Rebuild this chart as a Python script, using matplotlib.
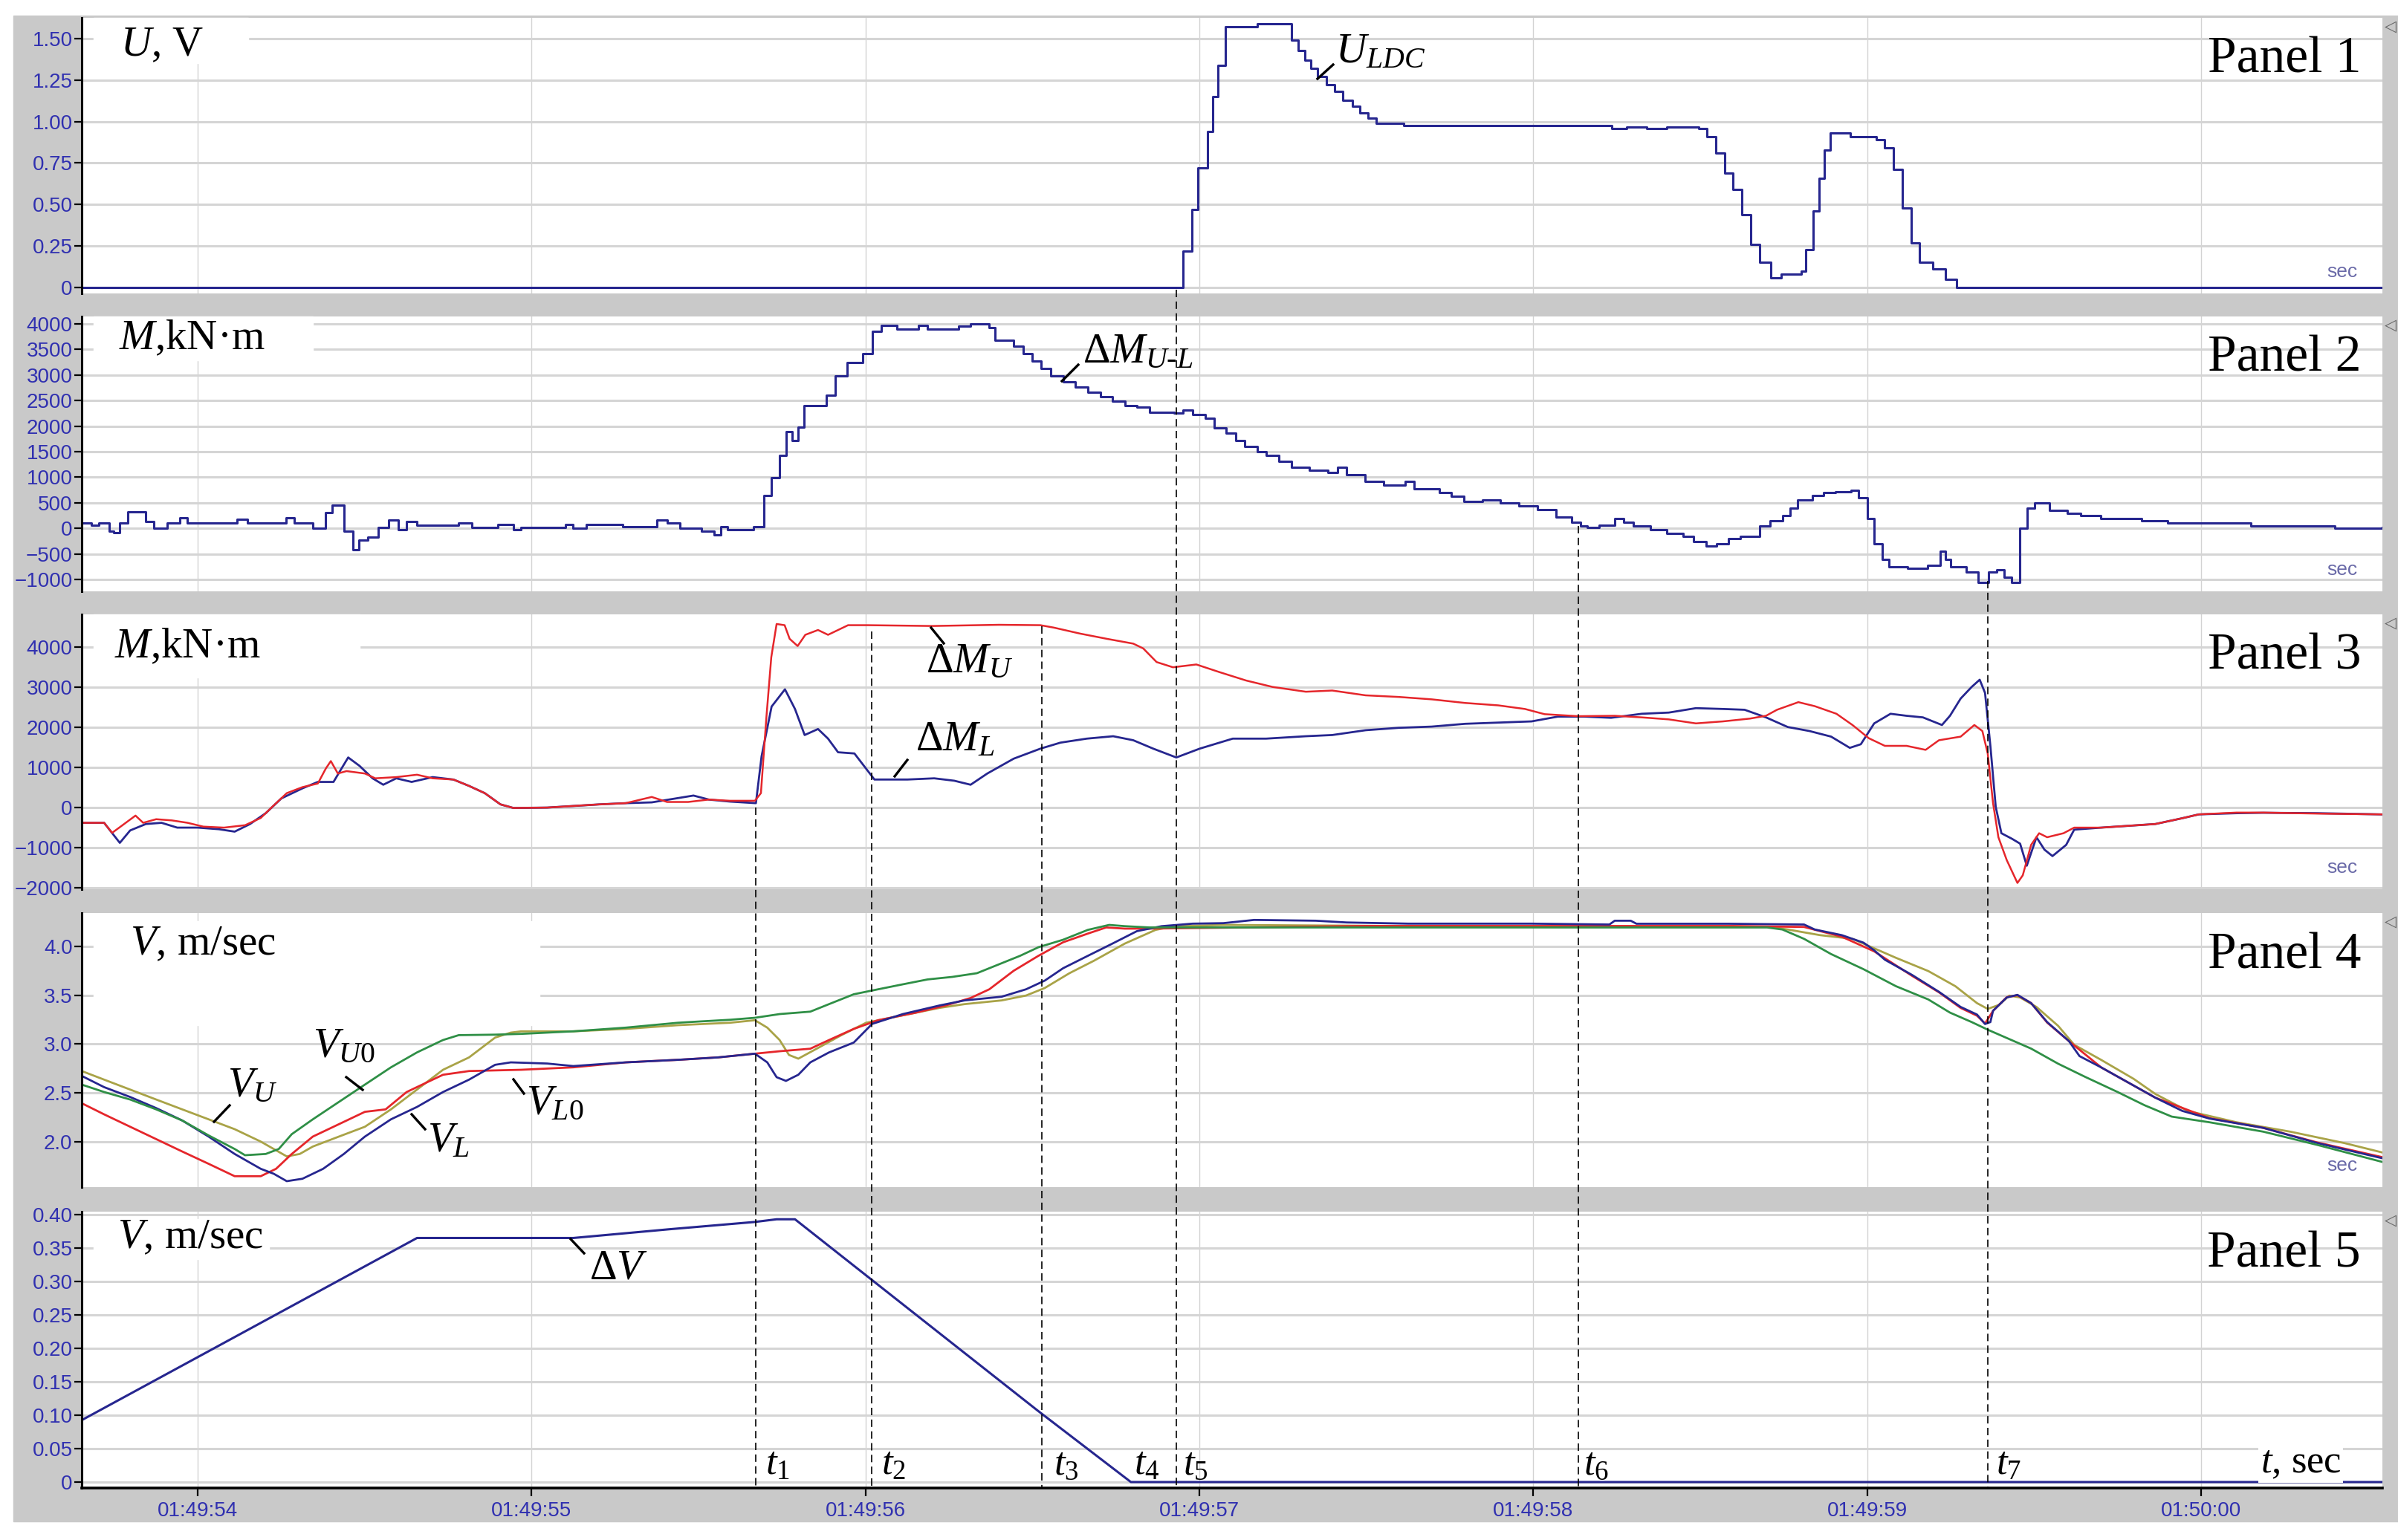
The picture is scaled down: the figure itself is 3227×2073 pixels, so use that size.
import numpy as np
import matplotlib.pyplot as plt
from matplotlib.patches import Rectangle
from matplotlib.lines import Line2D
from matplotlib.transforms import blended_transform_factory

W, H = 3227, 2073
plt.rcParams['font.family'] = ['Liberation Sans', 'DejaVu Sans']
plt.rcParams['mathtext.fontset'] = 'custom'
plt.rcParams['mathtext.rm'] = 'Liberation Serif'
plt.rcParams['mathtext.it'] = 'Liberation Serif:italic'

# ---------------- data (time in seconds after 01:49:00) ----------------
T_START, T_END = 53.653, 60.543
sec_ticks = [54, 55, 56, 57, 58, 59, 60]
sec_labels = ['01:49:54', '01:49:55', '01:49:56', '01:49:57', '01:49:58', '01:49:59', '01:50:00']

# panel 1 : U_LDC, V
t_uldc = [53.653, 56.931, 56.952, 56.978, 56.996, 57.025, 57.040, 57.056, 57.077, 57.173, 57.245,
          57.276, 57.295, 57.315, 57.335, 57.354, 57.380, 57.406, 57.430, 57.458, 57.480, 57.505,
          57.530, 57.613, 58.197, 58.236, 58.280, 58.340, 58.400, 58.495, 58.521, 58.547, 58.573,
          58.599, 58.625, 58.651, 58.677, 58.711, 58.742, 58.802, 58.815, 58.838, 58.855, 58.872,
          58.890, 58.949, 59.027, 59.053, 59.079, 59.105, 59.131, 59.157, 59.196, 59.235, 59.268, 60.543]
u_ldc = [0.0, 0.0, 0.22, 0.47, 0.72, 0.94, 1.15, 1.34, 1.57, 1.59, 1.59,
         1.49, 1.43, 1.37, 1.32, 1.27, 1.22, 1.18, 1.13, 1.09, 1.05, 1.02,
         0.99, 0.975, 0.975, 0.96, 0.965, 0.96, 0.965, 0.96, 0.91, 0.81, 0.69,
         0.59, 0.44, 0.26, 0.15, 0.06, 0.08, 0.10, 0.23, 0.46, 0.66, 0.83,
         0.93, 0.91, 0.89, 0.84, 0.71, 0.48, 0.27, 0.15, 0.11, 0.05, 0.0, 0.0]

# panel 2 : dM_U-L, kN*m
t_dmul = [53.653, 53.681, 53.705, 53.736, 53.748, 53.767, 53.790, 53.845, 53.869, 53.908, 53.947,
          53.970, 54.118, 54.150, 54.264, 54.290, 54.345, 54.384, 54.403, 54.438, 54.465, 54.482,
          54.509, 54.540, 54.571, 54.602, 54.626, 54.657, 54.782, 54.821, 54.899, 54.946, 54.969,
          55.102, 55.125, 55.164, 55.274, 55.375, 55.406, 55.445, 55.508, 55.547, 55.566, 55.586,
          55.664, 55.691, 55.697, 55.719, 55.743, 55.762, 55.780, 55.799, 55.817, 55.882, 55.909,
          55.946, 55.992, 56.020, 56.048, 56.094, 56.158, 56.186, 56.278, 56.315, 56.371, 56.389,
          56.444, 56.472, 56.500, 56.527, 56.555, 56.592, 56.629, 56.666, 56.703, 56.740, 56.777,
          56.813, 56.850, 56.924, 56.952, 56.980, 57.017, 57.044, 57.081, 57.109, 57.136, 57.173,
          57.201, 57.238, 57.275, 57.330, 57.386, 57.413, 57.441, 57.496, 57.552, 57.616, 57.644,
          57.718, 57.755, 57.792, 57.847, 57.902, 57.958, 58.013, 58.068, 58.115, 58.142, 58.161,
          58.198, 58.244, 58.271, 58.300, 58.350, 58.400, 58.448, 58.480, 58.517, 58.550, 58.585,
          58.620, 58.677, 58.710, 58.746, 58.770, 58.792, 58.837, 58.870, 58.906, 58.952, 58.975,
          59.000, 59.020, 59.045, 59.066, 59.120, 59.181, 59.218, 59.235, 59.250, 59.296, 59.332,
          59.364, 59.387, 59.410, 59.433, 59.456, 59.479, 59.502, 59.547, 59.600, 59.639, 59.700,
          59.822, 59.900, 60.051, 60.150, 60.280, 60.400, 60.543]
dm_ul = [104, 65, 100, -55, -80, 100, 330, 140, 0, 110, 210,
         110, 180, 110, 210, 100, 0, 310, 460, -55, -420, -230,
         -170, 20, 160, -30, 140, 65, 100, 20, 80, -30, 20,
         80, 0, 80, 40, 160, 110, 0, -55, -120, 40, -30,
         40, 40, 650, 990, 1430, 1890, 1720, 1985, 2400, 2610, 2980,
         3240, 3410, 3850, 3970, 3900, 3970, 3900, 3950, 4000, 3920, 3680,
         3560, 3410, 3270, 3120, 2980, 2860, 2760, 2660, 2570, 2490, 2400,
         2370, 2270, 2250, 2310, 2230, 2150, 1960, 1860, 1720, 1600, 1500,
         1430, 1310, 1200, 1140, 1090, 1190, 1050, 920, 850, 920, 775,
         700, 630, 530, 560, 495, 435, 365, 220, 120, 50, 25,
         70, 195, 120, 50, -20, -100, -150, -250, -350, -300, -200,
         -150, 50, 150, 250, 400, 550, 650, 700, 720, 750, 600,
         200, -300, -600, -750, -780, -720, -450, -600, -750, -850, -1050,
         -850, -800, -950, -1050, 0, 400, 500, 350, 300, 250, 200,
         150, 100, 100, 50, 50, 0, 20]

# panel 3 : dM_U (red) and dM_L (blue), kN*m
t_dmu = [53.653, 53.720, 53.744, 53.775, 53.814, 53.837, 53.876, 53.923, 53.970, 54.017, 54.079,
         54.142, 54.189, 54.220, 54.267, 54.314, 54.360, 54.384, 54.399, 54.420, 54.446, 54.501,
         54.532, 54.595, 54.657, 54.704, 54.766, 54.813, 54.860, 54.907, 54.946, 55.047, 55.125,
         55.203, 55.282, 55.360, 55.406, 55.469, 55.531, 55.594, 55.669, 55.687, 55.703, 55.718,
         55.734, 55.758, 55.773, 55.797, 55.820, 55.858, 55.888, 55.918, 55.948, 56.007, 56.200,
         56.400, 56.524, 56.564, 56.643, 56.723, 56.802, 56.832, 56.872, 56.921, 56.991, 57.060,
         57.140, 57.219, 57.319, 57.398, 57.498, 57.597, 57.696, 57.796, 57.895, 57.975, 58.034,
         58.134, 58.244, 58.325, 58.406, 58.487, 58.568, 58.649, 58.697, 58.730, 58.794, 58.843,
         58.908, 58.956, 59.005, 59.053, 59.118, 59.175, 59.215, 59.280, 59.321, 59.345, 59.361,
         59.377, 59.393, 59.418, 59.450, 59.466, 59.491, 59.515, 59.539, 59.588, 59.620, 59.701,
         59.782, 59.863, 59.944, 59.993, 60.106, 60.187, 60.349, 60.543]
dm_u = [-380, -380, -630, -440, -200, -380, -290, -320, -380, -475, -500,
        -440, -260, -10, 360, 510, 600, 975, 1160, 850, 910, 850,
        730, 760, 820, 730, 700, 540, 360, 80, -10, 0, 40,
        80, 110, 265, 140, 140, 200, 170, 170, 360, 2210, 3750,
        4580, 4550, 4210, 4030, 4310, 4430, 4310, 4430, 4550, 4550, 4530,
        4560, 4550, 4490, 4340, 4210, 4090, 3970, 3630, 3500, 3570, 3380,
        3170, 3010, 2890, 2920, 2800, 2760, 2700, 2610, 2550, 2460, 2330,
        2280, 2290, 2250, 2200, 2100, 2150, 2220, 2290, 2440, 2630, 2530,
        2340, 2060, 1730, 1540, 1540, 1440, 1680, 1770, 2060, 1910, 1350,
        110, -740, -1310, -1880, -1690, -930, -640, -740, -640, -500, -500,
        -455, -410, -265, -170, -125, -125, -150, -170]

t_dml = [53.653, 53.720, 53.767, 53.798, 53.845, 53.892, 53.939, 54.001, 54.064, 54.111, 54.157,
         54.204, 54.251, 54.314, 54.360, 54.407, 54.431, 54.451, 54.485, 54.524, 54.556, 54.595,
         54.641, 54.704, 54.766, 54.813, 54.860, 54.907, 54.946, 55.047, 55.125, 55.203, 55.282,
         55.360, 55.485, 55.531, 55.594, 55.672, 55.689, 55.719, 55.759, 55.789, 55.818, 55.858,
         55.888, 55.918, 55.967, 56.027, 56.067, 56.126, 56.206, 56.266, 56.315, 56.365, 56.444,
         56.524, 56.584, 56.663, 56.742, 56.802, 56.862, 56.931, 57.001, 57.100, 57.200, 57.319,
         57.398, 57.498, 57.597, 57.696, 57.796, 57.895, 57.995, 58.074, 58.153, 58.233, 58.325,
         58.406, 58.487, 58.568, 58.633, 58.697, 58.762, 58.827, 58.892, 58.948, 58.981, 59.021,
         59.070, 59.118, 59.167, 59.224, 59.248, 59.280, 59.313, 59.337, 59.353, 59.369, 59.385,
         59.402, 59.434, 59.458, 59.478, 59.507, 59.531, 59.555, 59.596, 59.620, 59.701, 59.782,
         59.863, 59.944, 59.993, 60.106, 60.187, 60.349, 60.543]
dm_l = [-380, -380, -880, -570, -410, -380, -500, -500, -540, -600, -410,
        -140, 230, 480, 640, 640, 975, 1250, 1040, 730, 570, 730,
        640, 760, 700, 540, 360, 80, -10, 0, 40, 80, 110,
        130, 300, 200, 150, 110, 1280, 2520, 2950, 2460, 1810, 1960,
        1720, 1380, 1350, 700, 700, 700, 730, 670, 570, 850, 1220,
        1470, 1620, 1720, 1780, 1680, 1470, 1250, 1470, 1720, 1720, 1780,
        1810, 1930, 1990, 2020, 2090, 2120, 2150, 2270, 2270, 2240, 2340,
        2370, 2480, 2460, 2440, 2250, 2010, 1910, 1770, 1490, 1580, 2100,
        2340, 2290, 2250, 2060, 2290, 2720, 3010, 3190, 2860, 1540, 20,
        -640, -780, -900, -1450, -740, -1050, -1210, -930, -550, -500, -455,
        -410, -265, -170, -140, -130, -140, -170]

# panel 4 : speeds, m/sec
t_vu = [53.653, 53.720, 53.798, 53.876, 53.954, 54.033, 54.111, 54.189, 54.228, 54.267, 54.306,
        54.345, 54.423, 54.501, 54.579, 54.657, 54.735, 54.813, 54.891, 54.938, 54.969, 55.125,
        55.282, 55.438, 55.594, 55.669, 55.706, 55.743, 55.771, 55.799, 55.854, 55.928, 56.002,
        56.075, 56.149, 56.223, 56.297, 56.408, 56.481, 56.537, 56.611, 56.684, 56.777, 56.869,
        56.924, 57.072, 57.600, 58.082, 58.713, 58.762, 58.859, 58.956, 59.021, 59.086, 59.183,
        59.264, 59.329, 59.361, 59.394, 59.426, 59.458, 59.507, 59.572, 59.620, 59.701, 59.798,
        59.863, 59.960, 60.106, 60.268, 60.430, 60.543]
v_u = [2.723, 2.635, 2.533, 2.431, 2.330, 2.228, 2.127, 2.000, 1.924, 1.848, 1.873,
       1.949, 2.051, 2.152, 2.330, 2.533, 2.736, 2.863, 3.066, 3.117, 3.130, 3.130,
       3.155, 3.193, 3.218, 3.244, 3.168, 3.041, 2.888, 2.850, 2.952, 3.091, 3.218,
       3.269, 3.320, 3.371, 3.409, 3.447, 3.497, 3.574, 3.726, 3.853, 4.030, 4.170,
       4.208, 4.221, 4.210, 4.200, 4.200, 4.174, 4.116, 4.078, 3.981, 3.884, 3.748,
       3.593, 3.419, 3.360, 3.400, 3.496, 3.477, 3.380, 3.186, 2.992, 2.837, 2.643,
       2.488, 2.314, 2.198, 2.101, 1.984, 1.888]

t_vu0 = [53.653, 53.720, 53.798, 53.876, 53.954, 54.033, 54.111, 54.142, 54.204, 54.243, 54.282,
         54.345, 54.423, 54.501, 54.579, 54.657, 54.735, 54.782, 54.891, 54.969, 55.125, 55.282,
         55.438, 55.503, 55.596, 55.669, 55.743, 55.835, 55.891, 55.965, 56.038, 56.112, 56.186,
         56.260, 56.334, 56.389, 56.463, 56.518, 56.592, 56.666, 56.730, 56.777, 56.850, 57.500,
         58.700, 58.746, 58.811, 58.892, 58.989, 59.086, 59.183, 59.248, 59.313, 59.361, 59.426,
         59.491, 59.572, 59.653, 59.750, 59.831, 59.912, 60.025, 60.187, 60.349, 60.543]
v_u0 = [2.584, 2.508, 2.431, 2.330, 2.216, 2.063, 1.924, 1.860, 1.873, 1.924, 2.076,
        2.228, 2.406, 2.584, 2.761, 2.914, 3.041, 3.091, 3.096, 3.104, 3.130, 3.168,
        3.218, 3.231, 3.249, 3.269, 3.307, 3.332, 3.409, 3.510, 3.561, 3.612, 3.662,
        3.688, 3.726, 3.802, 3.904, 3.992, 4.069, 4.170, 4.221, 4.208, 4.195, 4.195,
        4.195, 4.174, 4.078, 3.922, 3.767, 3.593, 3.457, 3.322, 3.225, 3.147, 3.050,
        2.953, 2.798, 2.663, 2.508, 2.372, 2.256, 2.198, 2.101, 1.965, 1.791]

t_vl = [53.653, 53.720, 53.798, 53.876, 53.954, 54.033, 54.111, 54.189, 54.228, 54.267, 54.314,
        54.376, 54.438, 54.501, 54.579, 54.657, 54.735, 54.813, 54.891, 54.938, 55.047, 55.125,
        55.282, 55.438, 55.559, 55.669, 55.706, 55.734, 55.762, 55.799, 55.835, 55.891, 55.965,
        56.020, 56.112, 56.223, 56.297, 56.408, 56.481, 56.537, 56.592, 56.666, 56.740, 56.813,
        56.887, 56.980, 57.072, 57.164, 57.349, 57.441, 57.626, 57.995, 58.228, 58.244, 58.292,
        58.309, 58.584, 58.811, 58.843, 58.924, 58.989, 59.021, 59.053, 59.134, 59.215, 59.280,
        59.329, 59.353, 59.369, 59.377, 59.418, 59.450, 59.491, 59.539, 59.604, 59.636, 59.701,
        59.782, 59.863, 59.944, 60.025, 60.187, 60.349, 60.543]
v_l = [2.673, 2.558, 2.457, 2.343, 2.216, 2.051, 1.873, 1.721, 1.670, 1.594, 1.619,
       1.721, 1.873, 2.051, 2.228, 2.355, 2.508, 2.635, 2.787, 2.812, 2.800, 2.774,
       2.812, 2.838, 2.863, 2.901, 2.812, 2.660, 2.622, 2.685, 2.812, 2.914, 3.015,
       3.206, 3.307, 3.396, 3.447, 3.485, 3.561, 3.650, 3.777, 3.904, 4.030, 4.157,
       4.208, 4.234, 4.239, 4.272, 4.264, 4.246, 4.234, 4.234, 4.225, 4.264, 4.264,
       4.233, 4.233, 4.225, 4.174, 4.116, 4.039, 3.961, 3.864, 3.709, 3.535, 3.380,
       3.302, 3.205, 3.225, 3.341, 3.477, 3.504, 3.419, 3.225, 3.031, 2.876, 2.760,
       2.605, 2.450, 2.314, 2.236, 2.140, 1.984, 1.829]

t_vl0 = [53.653, 53.720, 53.798, 53.876, 53.954, 54.033, 54.111, 54.189, 54.235, 54.282, 54.345,
         54.423, 54.501, 54.563, 54.626, 54.688, 54.735, 54.813, 54.969, 55.125, 55.282, 55.438,
         55.559, 55.669, 55.743, 55.835, 55.891, 55.965, 56.038, 56.149, 56.241, 56.315, 56.371,
         56.444, 56.518, 56.592, 56.666, 56.721, 56.777, 56.850, 57.500, 58.600, 58.811, 58.924,
         59.021, 59.134, 59.215, 59.280, 59.329, 59.353, 59.377, 59.418, 59.450, 59.491, 59.539,
         59.604, 59.701, 59.863, 60.025, 60.187, 60.349, 60.543]
v_l0 = [2.393, 2.279, 2.152, 2.025, 1.898, 1.772, 1.645, 1.645, 1.721, 1.873, 2.051,
        2.178, 2.305, 2.330, 2.508, 2.609, 2.685, 2.723, 2.736, 2.761, 2.812, 2.838,
        2.863, 2.901, 2.926, 2.952, 3.041, 3.155, 3.244, 3.320, 3.396, 3.472, 3.561,
        3.751, 3.904, 4.043, 4.132, 4.195, 4.183, 4.183, 4.210, 4.210, 4.200, 4.100,
        3.950, 3.700, 3.530, 3.370, 3.290, 3.210, 3.340, 3.480, 3.500, 3.420, 3.220,
        3.030, 2.760, 2.450, 2.240, 2.140, 1.990, 1.840]

# panel 5 : dV, m/sec
t_dv = [53.653, 54.001, 54.657, 55.125, 55.411, 55.669, 55.734, 55.789, 56.020, 56.518, 56.795, 60.543]
dv = [0.0926, 0.187, 0.365, 0.365, 0.378, 0.389, 0.393, 0.393, 0.302, 0.106, 0.0, 0.0]

# event instants t1..t7 and where their dashed markers start (pixel row)
event_t = [55.671, 56.019, 56.528, 56.931, 58.135, 59.362]
event_top = [1087, 850, 843, 390, 708, 782]

# ---------------- figure ----------------
NAVY = '#26268f'
RED = '#e5262b'
GREEN = '#2f8f46'
OLIVE = '#a9a347'
TICKC = '#3030b0'
GRAYBG = '#c9c9c9'


def fx(x):
    return x / W


def fy(y):
    return 1 - y / H


fig = plt.figure(figsize=(W / 100, H / 100), dpi=100)
fig.add_artist(Rectangle((fx(18), fy(2048)), (W - 18) / W, (2048 - 21) / H,
                         transform=fig.transFigure, color=GRAYBG, zorder=-10))

panels = [(24, 395), (426, 796), (827, 1197), (1229, 1598), (1631, 2003)]
axes = []
for top, bot in panels:
    ax = fig.add_axes([fx(110), fy(bot), 3096 / W, (bot - top) / H])
    ax.set_facecolor('white')
    ax.set_xlim(T_START, T_END)
    ax.set_xticks(sec_ticks)
    ax.grid(axis='y', color='#d5d5d5', lw=2.2)
    ax.grid(axis='x', color='#d3d3d3', lw=1.0)
    ax.set_axisbelow(True)
    for s in ['top', 'right', 'bottom']:
        ax.spines[s].set_visible(False)
    ax.spines['left'].set_linewidth(2.2)
    ax.tick_params(axis='y', length=7, width=1.6, labelcolor=TICKC, labelsize=20, pad=2)
    ax.tick_params(axis='x', bottom=False, labelbottom=False)
    axes.append(ax)

ax1, ax2, ax3, ax4, ax5 = axes

ax1.set_ylim(-0.036, 1.625)
ax1.set_yticks([0, 0.25, 0.5, 0.75, 1.0, 1.25, 1.5])
ax1.set_yticklabels(['0', '0.25', '0.50', '0.75', '1.00', '1.25', '1.50'])
ax1.plot(t_uldc, u_ldc, color=NAVY, lw=2.2, drawstyle='steps-post')

ax2.set_ylim(-1228, 4141)
ax2.set_yticks(np.arange(-1000, 4001, 500))
ax2.plot(t_dmul, dm_ul, color=NAVY, lw=2.2, drawstyle='steps-post')

ax3.set_ylim(-2037, 4820)
ax3.set_yticks(np.arange(-2000, 4001, 1000))
ax3.plot(t_dml, dm_l, color=NAVY, lw=2.0)
ax3.plot(t_dmu, dm_u, color=RED, lw=1.8)

ax4.set_ylim(1.533, 4.343)
ax4.set_yticks([2.0, 2.5, 3.0, 3.5, 4.0])
ax4.set_yticklabels(['2.0', '2.5', '3.0', '3.5', '4.0'])
ax4.plot(t_vu, v_u, color=OLIVE, lw=2.0)
ax4.plot(t_vl0, v_l0, color=RED, lw=2.0)
ax4.plot(t_vl, v_l, color=NAVY, lw=2.0)
ax4.plot(t_vu0, v_u0, color=GREEN, lw=2.0)

ax5.set_ylim(-0.0089, 0.4044)
ax5.set_yticks(np.arange(0, 0.401, 0.05))
ax5.set_yticklabels(['0', '0.05', '0.10', '0.15', '0.20', '0.25', '0.30', '0.35', '0.40'])
ax5.plot(t_dv, dv, color=NAVY, lw=2.2)
ax5.spines['bottom'].set_visible(True)
ax5.spines['bottom'].set_linewidth(2.6)
ax5.tick_params(axis='x', bottom=True, labelbottom=True, length=8, width=1.6,
                labelcolor=TICKC, labelsize=20, pad=5)
ax5.set_xticklabels(sec_labels)

# white boxes behind the unit labels
for x0, y0, x1, y1 in [(126, 24, 334, 85), (126, 426, 421, 485), (126, 827, 484, 912),
                       (126, 1240, 726, 1380), (126, 1641, 362, 1695)]:
    fig.add_artist(Rectangle((fx(x0), fy(y1)), (x1 - x0) / W, (y1 - y0) / H,
                             transform=fig.transFigure, color='white', zorder=1))

# dashed event markers crossing the panels
tr = blended_transform_factory(ax5.transData, fig.transFigure)
for t, ytop in zip(event_t, event_top):
    fig.add_artist(Line2D([t, t], [fy(ytop), fy(2003)], transform=tr, color='black',
                          lw=1.2, linestyle=(0, (6, 3.5)), zorder=2))

SERIF = ['Liberation Serif', 'DejaVu Serif']


def label(x, y, s, size=41, ha='left'):
    fig.text(fx(x), fy(y), s, fontsize=size, family=SERIF, ha=ha, va='baseline', zorder=4)


def leader(x0, y0, x1, y1):
    fig.add_artist(Line2D([fx(x0), fx(x1)], [fy(y0), fy(y1)], transform=fig.transFigure,
                          color='black', lw=2.4, zorder=4))


# unit labels
label(162, 75, r'$U$, V')
label(160, 470, r'$M$,kN·m')
label(154, 885, r'$M$,kN·m')
label(175, 1285, r'$V$, m/sec')
label(158, 1680, r'$V$, m/sec')

# panel names
for i, (top, bot) in enumerate(panels):
    label(3177, top + 74, 'Panel %d' % (i + 1), size=50, ha='right')
    fig.text(fx(3217), fy(top + 12), '\u25c1', fontsize=15, color='#666666',
             family='DejaVu Sans', ha='center', va='center')
    if i < 4:
        fig.text(fx(3172), fy(bot - 22), 'sec', fontsize=19, color='#6a6aa8',
                 ha='right', va='baseline')

# curve annotations
label(1797, 84, r'$U_{LDC}$')
leader(1773, 106, 1794, 87)
label(1457, 488, r'$\Delta M_{U\text{-}L}$')
leader(1429, 513, 1451, 491)
label(1246, 905, r'$\Delta M_U$')
leader(1253, 845, 1270, 866)
label(1232, 1010, r'$\Delta M_L$')
leader(1204, 1045, 1221, 1023)
label(306, 1476, r'$V_U$')
leader(288, 1510, 309, 1488)
label(421, 1423, r'$V_{U0}$')
leader(466, 1450, 488, 1467)
label(575, 1550, r'$V_L$')
leader(554, 1500, 572, 1520)
label(708, 1500, r'$V_{L0}$')
leader(691, 1453, 705, 1472)
label(793, 1722, r'$\Delta V$')
leader(768, 1668, 786, 1687)

# event labels
for k, x in zip(range(1, 8), [1030, 1186, 1418, 1526, 1592, 2131, 2686]):
    label(x, 1985, r'$t_%d$' % k, size=38)
fig.text(fx(3042), fy(1982), r'$t$, sec', fontsize=38, family=SERIF, va='baseline', zorder=4,
         bbox=dict(facecolor='white', edgecolor='none', pad=2))

fig.savefig('out.png', dpi=100)
